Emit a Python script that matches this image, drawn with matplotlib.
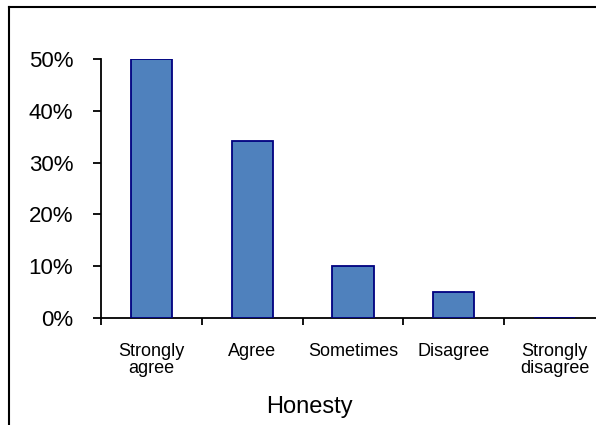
import numpy as np
import matplotlib
matplotlib.use('Agg')
import matplotlib.pyplot as plt
from matplotlib.lines import Line2D
from matplotlib.ticker import PercentFormatter, FixedLocator

plt.rcParams['font.family'] = ['Liberation Sans', 'DejaVu Sans']

# data
categories = ['Strongly\nagree', 'Agree', 'Sometimes', 'Disagree', 'Strongly\ndisagree']
shares = [0.50, 0.342, 0.10, 0.05, 0.0]
axis_title = 'Honesty'

W, H = 596, 425
fig = plt.figure(figsize=(W / 100, H / 100), dpi=100)

# axes box in pixels: left 101, right 605 (runs past the image), top 59, bottom 318
ax = fig.add_axes([101 / W, 1 - 318 / H, (605 - 101) / W, (318 - 59) / H])
x = np.arange(len(categories))
ax.bar(x, shares, width=0.41, color='#4F81BD', edgecolor='#000080', linewidth=1.3, zorder=3)

ax.set_xlim(-0.5, len(categories) - 0.5)
ax.set_ylim(0, 0.5)
ax.yaxis.set_major_formatter(PercentFormatter(1.0, decimals=0))
ax.set_yticks(np.arange(0, 0.51, 0.1))
ax.set_xticks(x)
ax.set_xticklabels(categories, fontsize=13, linespacing=1.0)
ax.tick_params(axis='x', length=0, pad=18)
# category boundary ticks
ax.xaxis.set_minor_locator(FixedLocator(np.arange(-0.5, len(categories), 1.0)))
ax.tick_params(axis='x', which='minor', length=5, width=1.3, direction='out')
ax.tick_params(axis='y', length=6, width=1.3, direction='out', labelsize=16, pad=14)

for s in ['top', 'right']:
    ax.spines[s].set_visible(False)
for s in ['left', 'bottom']:
    ax.spines[s].set_linewidth(1.3)

fig.text(309 / W, 1 - 413 / H, axis_title, ha='center', va='baseline', fontsize=17)

# outer chart frame (only top and left edge visible in the crop)
fig.add_artist(Line2D([9 / W, 1.0], [1 - 7 / H, 1 - 7 / H], transform=fig.transFigure,
                      color='black', linewidth=1.5))
fig.add_artist(Line2D([9 / W, 9 / W], [1 - 7 / H, 0.0], transform=fig.transFigure,
                      color='black', linewidth=1.5))

fig.savefig('out.png', dpi=100)
